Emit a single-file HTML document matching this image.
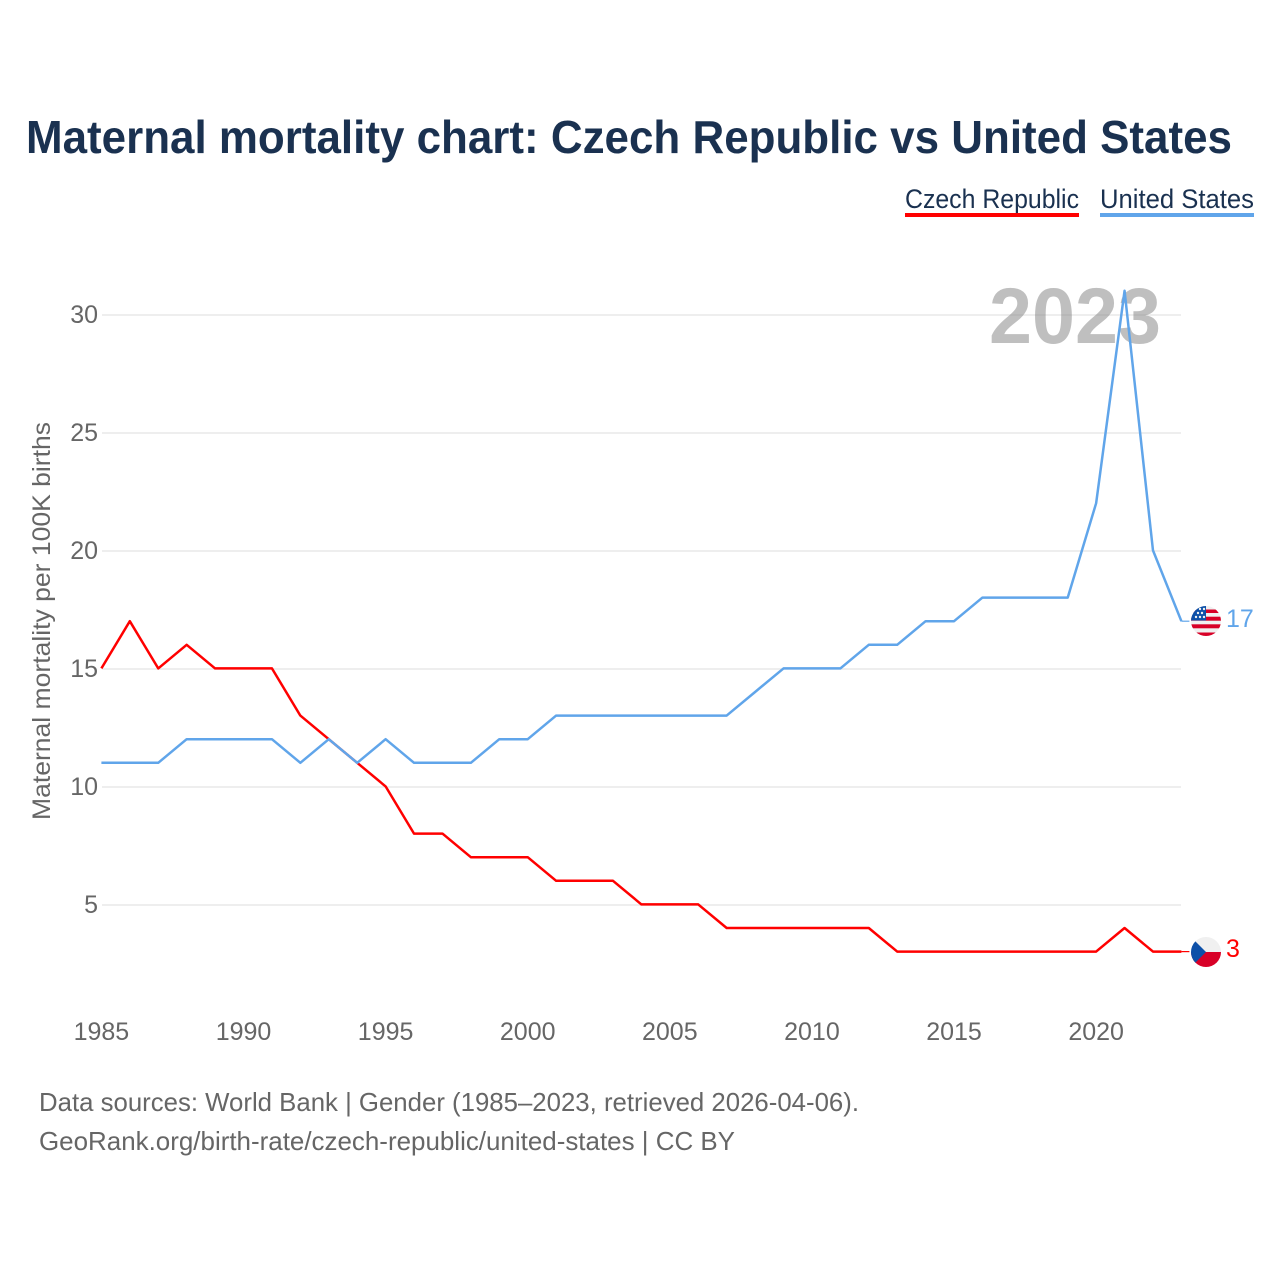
<!DOCTYPE html>
<html lang="en">
<head>
<meta charset="utf-8">
<title>Maternal mortality chart: Czech Republic vs United States</title>
<style>
html,body{margin:0;padding:0;background:#fff;}
svg{display:block;font-family:"Liberation Sans",sans-serif;}
</style>
</head>
<body>
<svg id="chart" width="1280" height="1280" viewBox="0 0 1280 1280" xmlns="http://www.w3.org/2000/svg">
  <defs>
    <clipPath id="clip-us"><circle cx="1206" cy="621" r="15"/></clipPath>
    <clipPath id="clip-cz"><circle cx="1206" cy="952" r="15"/></clipPath>
  </defs>
  <rect x="0" y="0" width="1280" height="1280" fill="#ffffff"/>
  <text x="26" y="153" font-size="46" font-weight="700" fill="#1a3150" textLength="1206" lengthAdjust="spacingAndGlyphs">Maternal mortality chart: Czech Republic vs United States</text>

  <g>
    <g>
      <text x="905" y="208" font-size="27" fill="#1a3150" textLength="174" lengthAdjust="spacingAndGlyphs">Czech Republic</text>
      <rect x="905" y="213" width="174" height="4" fill="#ff0000"/>
    </g>
    <g>
      <text x="1100" y="208" font-size="27" fill="#1a3150" textLength="154" lengthAdjust="spacingAndGlyphs">United States</text>
      <rect x="1100" y="213" width="154" height="4" fill="#60a5ea"/>
    </g>
  </g>

  <g id="grid"></g>
  <text x="1161" y="343" font-size="79" font-weight="700" fill="#808080" fill-opacity="0.5" text-anchor="end" textLength="172" lengthAdjust="spacingAndGlyphs">2023</text>
  <g id="y-ticks"></g>
  <g id="x-ticks"></g>
  <text transform="translate(50,621) rotate(-90)" font-size="25" fill="#666666" text-anchor="middle" textLength="398" lengthAdjust="spacingAndGlyphs">Maternal mortality per 100K births</text>

  <g id="series"></g>

  <g clip-path="url(#clip-us)">
    <rect x="1191" y="606" width="30" height="30" fill="#f0f0f0"/>
    <rect x="1191" y="609.5" width="30" height="3.5" fill="#d80027"/>
    <rect x="1191" y="616.7" width="30" height="4" fill="#d80027"/>
    <rect x="1191" y="624.3" width="30" height="4" fill="#d80027"/>
    <rect x="1191" y="632.5" width="30" height="3.5" fill="#d80027"/>
    <rect x="1191" y="606" width="15" height="14.5" fill="#0d50a8"/>
    <circle cx="1196" cy="617" r="1.2" fill="#f0f0f0"/><circle cx="1200" cy="617" r="1.2" fill="#f0f0f0"/><circle cx="1204" cy="617" r="1.2" fill="#f0f0f0"/>
    <circle cx="1198" cy="613" r="1.2" fill="#f0f0f0"/><circle cx="1202" cy="613" r="1.2" fill="#f0f0f0"/>
    <circle cx="1200" cy="609" r="1.2" fill="#f0f0f0"/><circle cx="1204" cy="609" r="1.2" fill="#f0f0f0"/>
  </g>
  <text x="1226" y="627" font-size="25" fill="#60a5ea">17</text>

  <g clip-path="url(#clip-cz)">
    <rect x="1191" y="937" width="30" height="15" fill="#f0f0f0"/>
    <rect x="1191" y="952" width="30" height="15" fill="#d80027"/>
    <polygon points="1191,937 1206,952 1191,967" fill="#0d50a8"/>
  </g>
  <text x="1226" y="957" font-size="25" fill="#ff0000">3</text>

  <g>
    <text x="39" y="1111" font-size="26" fill="#666666" textLength="820" lengthAdjust="spacingAndGlyphs">Data sources: World Bank | Gender (1985–2023, retrieved 2026-04-06).</text>
    <text x="39" y="1150" font-size="26" fill="#666666" textLength="696" lengthAdjust="spacingAndGlyphs">GeoRank.org/birth-rate/czech-republic/united-states | CC BY</text>
  </g>
</svg>
<script>
const years = [1985,1986,1987,1988,1989,1990,1991,1992,1993,1994,1995,1996,1997,1998,1999,2000,2001,2002,2003,2004,2005,2006,2007,2008,2009,2010,2011,2012,2013,2014,2015,2016,2017,2018,2019,2020,2021,2022,2023];
const czechValues = [15,17,15,16,15,15,15,13,12,11,10,8,8,7,7,7,6,6,6,5,5,5,4,4,4,4,4,4,3,3,3,3,3,3,3,3,4,3,3];
const usValues = [11,11,11,12,12,12,12,11,12,11,12,11,11,11,12,12,13,13,13,13,13,13,13,14,15,15,15,16,16,17,17,18,18,18,18,22,31,20,17];
const yTickValues = [5,10,15,20,25,30];
const xTickValues = [1985,1990,1995,2000,2005,2010,2015,2020];

const NS = 'http://www.w3.org/2000/svg';
function xScale(year) { return 101.4 + (year - 1985) * (1080 / 38); }
function yScale(value) { return 1022.4 - value * 23.6; }

const gridGroup = document.getElementById('grid');
const yGroup = document.getElementById('y-ticks');
const xGroup = document.getElementById('x-ticks');
const seriesGroup = document.getElementById('series');

yTickValues.forEach(function (v) {
  const line = document.createElementNS(NS, 'line');
  
  
  line.setAttribute('x1', 102);
  line.setAttribute('x2', 1181);
  line.setAttribute('y1', yScale(v) + 0.6);
  line.setAttribute('y2', yScale(v) + 0.6);
  line.setAttribute('stroke', '#e9e9e9');
  line.setAttribute('stroke-width', '1.5');
  gridGroup.appendChild(line);

  const label = document.createElementNS(NS, 'text');
  
  
  label.setAttribute('x', 98);
  label.setAttribute('y', yScale(v) + 8.6);
  label.setAttribute('font-size', '25');
  label.setAttribute('fill', '#666666');
  label.setAttribute('text-anchor', 'end');
  label.textContent = v;
  yGroup.appendChild(label);
});

xTickValues.forEach(function (t) {
  const label = document.createElementNS(NS, 'text');
  
  
  label.setAttribute('x', xScale(t));
  label.setAttribute('y', 1040);
  label.setAttribute('font-size', '25');
  label.setAttribute('fill', '#666666');
  label.setAttribute('text-anchor', 'middle');
  label.textContent = t;
  xGroup.appendChild(label);
});

function drawSeries(values, color, name) {
  const pts = values.map(function (v, i) { return xScale(years[i]).toFixed(2) + ',' + yScale(v).toFixed(2); });
  const path = document.createElementNS(NS, 'polyline');
  
  
  path.setAttribute('points', pts.join(' '));
  path.setAttribute('fill', 'none');
  path.setAttribute('stroke', color);
  path.setAttribute('stroke-width', '2.5');
  path.setAttribute('stroke-linejoin', 'round');
  seriesGroup.appendChild(path);

  const lastY = yScale(values[values.length - 1]);
  const lastX = xScale(years[years.length - 1]);
  const leader = document.createElementNS(NS, 'line');
  
  
  leader.setAttribute('x1', lastX);
  leader.setAttribute('x2', lastX + 8);
  leader.setAttribute('y1', lastY);
  leader.setAttribute('y2', lastY);
  leader.setAttribute('stroke', color);
  leader.setAttribute('stroke-width', '1.2');
  seriesGroup.appendChild(leader);
}
drawSeries(czechValues, '#ff0000', 'czech-republic');
drawSeries(usValues, '#60a5ea', 'united-states');
</script>
</body>
</html>
